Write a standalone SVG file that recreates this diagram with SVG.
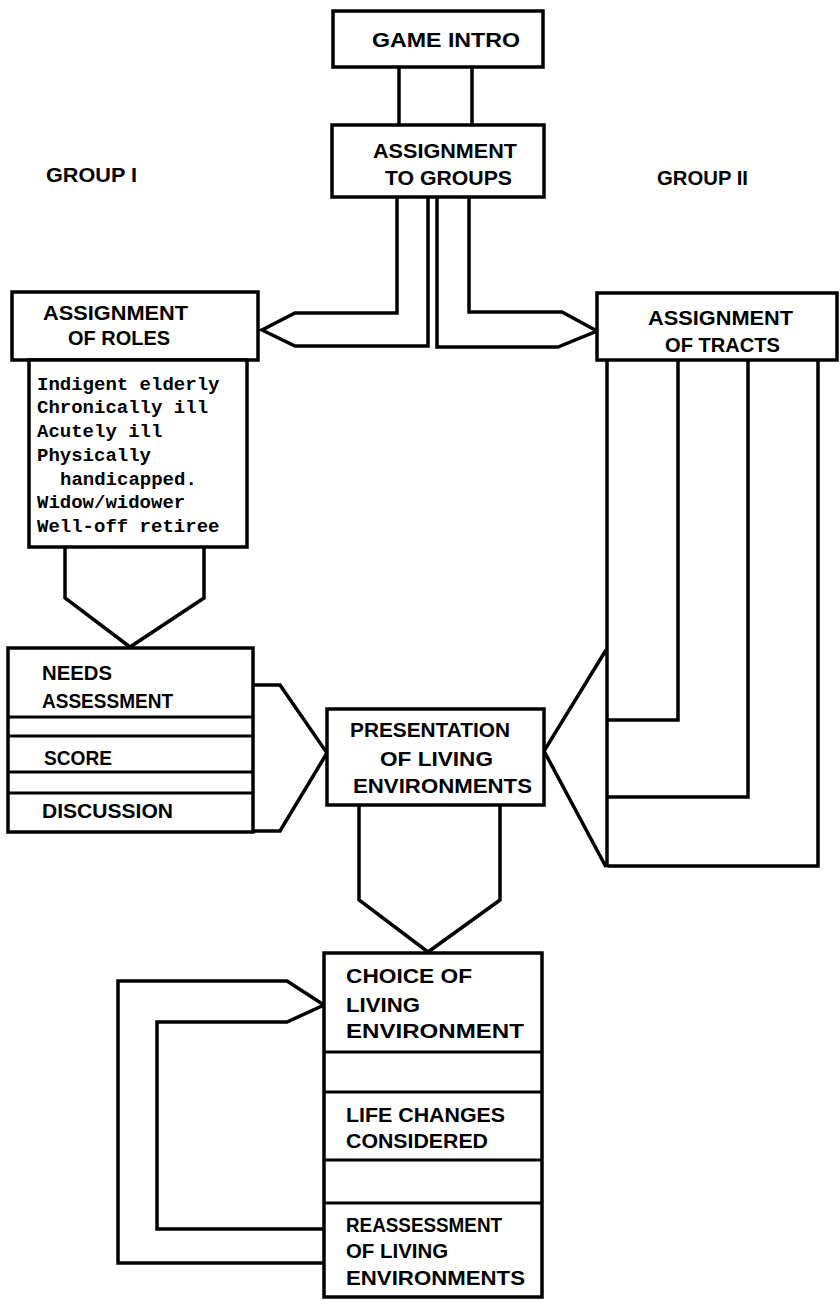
<svg xmlns="http://www.w3.org/2000/svg" width="840" height="1308" viewBox="0 0 840 1308">
<style>
.box{fill:#fff;stroke:#000;stroke-width:3.5}
.sep{stroke:#000;stroke-width:3}
.conn path{fill:none;stroke:#000;stroke-width:3.5;stroke-linejoin:miter}
.lbl{font-family:"Liberation Sans",Arial,sans-serif;font-weight:bold;font-size:21px;fill:#000}
.mono{font-family:"Liberation Mono","Courier New",monospace;font-weight:bold;font-size:19px;fill:#000}
</style>
<rect width="840" height="1308" fill="#fff"/>
<g class="conn" id="connectors">
<path d="M399,67 V125 M472,67 V125"/>
<path d="M397,197 V313 H295 L262,330 L295,346 H428 V197"/>
<path d="M437,197 V347 H558 L597,331 L562,312 H469 V197"/>
<path d="M65,547 V598 L130,647 L204,598 V547"/>
<path d="M253,685 H280 L327,753 L280,831 H253"/>
<path d="M607,360 V867 M678,360 V720 H607 M748,360 V797 H607 M818,360 V866 H607 M606,650 L544,751 L606,867"/>
<path d="M359,805 V900 L428,952 L500,900 V805"/>
<path d="M324,1263 H118 V981 H287 L324,1005 L287,1022 H157 V1229 H324"/>
</g>
<g id="game_intro">
<rect class="box" x="333" y="11" width="210" height="56"/>
<text class="lbl" x="372" y="47" textLength="148" lengthAdjust="spacingAndGlyphs">GAME INTRO</text>
</g>
<g id="assign_groups">
<rect class="box" x="332" y="125" width="212" height="72"/>
<text class="lbl" x="373" y="158" textLength="144" lengthAdjust="spacingAndGlyphs">ASSIGNMENT</text>
<text class="lbl" x="385" y="185" textLength="127" lengthAdjust="spacingAndGlyphs">TO GROUPS</text>
</g>
<g id="group1">
<text class="lbl" x="46" y="182" textLength="91" lengthAdjust="spacingAndGlyphs">GROUP I</text>
</g>
<g id="group2">
<text class="lbl" x="657" y="185" textLength="91" lengthAdjust="spacingAndGlyphs">GROUP II</text>
</g>
<g id="assign_roles">
<rect class="box" x="12" y="292" width="246" height="68"/>
<text class="lbl" x="43" y="320" textLength="145" lengthAdjust="spacingAndGlyphs">ASSIGNMENT</text>
<text class="lbl" x="68" y="345" textLength="102" lengthAdjust="spacingAndGlyphs">OF ROLES</text>
</g>
<g id="roles_list">
<rect class="box" x="29" y="360" width="218" height="187"/>
<text class="mono" x="37" y="390">Indigent elderly</text>
<text class="mono" x="37" y="413">Chronically ill</text>
<text class="mono" x="37" y="437">Acutely ill</text>
<text class="mono" x="37" y="461">Physically</text>
<text class="mono" x="60" y="485">handicapped.</text>
<text class="mono" x="37" y="508">Widow/widower</text>
<text class="mono" x="37" y="532">Well-off retiree</text>
</g>
<g id="assign_tracts">
<rect class="box" x="597" y="293" width="240" height="67"/>
<text class="lbl" x="648" y="325" textLength="145" lengthAdjust="spacingAndGlyphs">ASSIGNMENT</text>
<text class="lbl" x="665" y="352" textLength="115" lengthAdjust="spacingAndGlyphs">OF TRACTS</text>
</g>
<g id="needs">
<rect class="box" x="8" y="648" width="245" height="184"/>
<line class="sep" x1="8" y1="717" x2="253" y2="717"/>
<line class="sep" x1="8" y1="736" x2="253" y2="736"/>
<line class="sep" x1="8" y1="772" x2="253" y2="772"/>
<line class="sep" x1="8" y1="793" x2="253" y2="793"/>
<text class="lbl" x="42" y="680" textLength="70" lengthAdjust="spacingAndGlyphs">NEEDS</text>
<text class="lbl" x="42" y="708" textLength="131" lengthAdjust="spacingAndGlyphs">ASSESSMENT</text>
<text class="lbl" x="44" y="765" textLength="68" lengthAdjust="spacingAndGlyphs">SCORE</text>
<text class="lbl" x="42" y="818" textLength="131" lengthAdjust="spacingAndGlyphs">DISCUSSION</text>
</g>
<g id="presentation">
<rect class="box" x="327" y="709" width="217" height="96"/>
<text class="lbl" x="350" y="737" textLength="160" lengthAdjust="spacingAndGlyphs">PRESENTATION</text>
<text class="lbl" x="380" y="766" textLength="113" lengthAdjust="spacingAndGlyphs">OF LIVING</text>
<text class="lbl" x="353" y="793" textLength="179" lengthAdjust="spacingAndGlyphs">ENVIRONMENTS</text>
</g>
<g id="choice">
<rect class="box" x="324" y="953" width="218" height="344"/>
<line class="sep" x1="324" y1="1052" x2="542" y2="1052"/>
<line class="sep" x1="324" y1="1092" x2="542" y2="1092"/>
<line class="sep" x1="324" y1="1160" x2="542" y2="1160"/>
<line class="sep" x1="324" y1="1203" x2="542" y2="1203"/>
<text class="lbl" x="346" y="983" textLength="126" lengthAdjust="spacingAndGlyphs">CHOICE OF</text>
<text class="lbl" x="346" y="1012" textLength="74" lengthAdjust="spacingAndGlyphs">LIVING</text>
<text class="lbl" x="346" y="1038" textLength="178" lengthAdjust="spacingAndGlyphs">ENVIRONMENT</text>
<text class="lbl" x="346" y="1122" textLength="159" lengthAdjust="spacingAndGlyphs">LIFE CHANGES</text>
<text class="lbl" x="346" y="1148" textLength="142" lengthAdjust="spacingAndGlyphs">CONSIDERED</text>
<text class="lbl" x="346" y="1232" textLength="156" lengthAdjust="spacingAndGlyphs">REASSESSMENT</text>
<text class="lbl" x="346" y="1258" textLength="102" lengthAdjust="spacingAndGlyphs">OF LIVING</text>
<text class="lbl" x="346" y="1285" textLength="179" lengthAdjust="spacingAndGlyphs">ENVIRONMENTS</text>
</g>
</svg>
